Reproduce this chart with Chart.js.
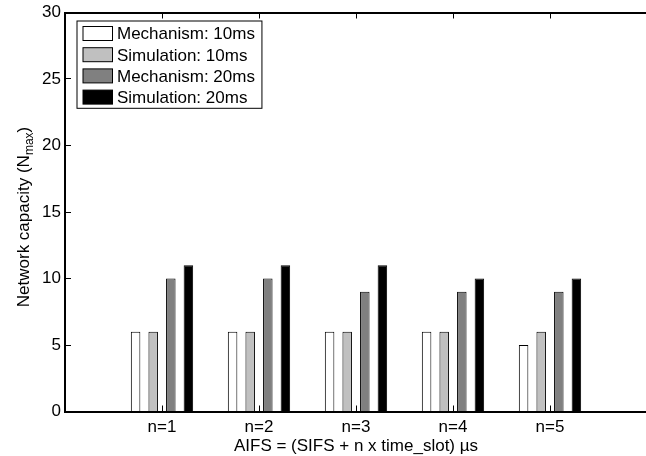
<!DOCTYPE html>
<html>
<head>
<meta charset="utf-8">
<title>Network capacity</title>
<script src="https://cdn.jsdelivr.net/npm/chart.js@4.4.1/dist/chart.umd.min.js"></script>
<style>
  html, body { margin: 0; padding: 0; background: #fff; overflow: hidden; }
  canvas { display: block; }
</style>
</head>
<body>
<canvas id="capacityChart" width="660" height="456"></canvas>
<script>
const categories = ['n=1', 'n=2', 'n=3', 'n=4', 'n=5'];
const mechanism10 = [6, 6, 6, 6, 5];
const simulation10 = [6, 6, 6, 6, 6];
const mechanism20 = [10, 10, 9, 9, 9];
const simulation20 = [11, 11, 11, 10, 10];
const yTicks = [0, 5, 10, 15, 20, 25, 30];

const FONT = "'Liberation Sans', Arial, sans-serif";

function toPoints(values) {
  return values.map((v, i) => ({ x: i + 1, y: v }));
}
const categoryTicks = (axis) => {
  axis.ticks = categories.map((c, i) => ({ value: i + 1 }));
};

// y title needs a subscript, so draw it by hand
const yTitlePlugin = {
  id: 'yTitle',
  afterDraw(chart) {
    const { ctx, chartArea } = chart;
    const main = 'Network capacity (N';
    const sub = 'max';
    const end = ')';
    ctx.save();
    ctx.fillStyle = '#000';
    ctx.textBaseline = 'alphabetic';
    ctx.font = '17px ' + FONT;
    const w1 = ctx.measureText(main).width;
    const w3 = ctx.measureText(end).width;
    ctx.font = '12px ' + FONT;
    const w2 = ctx.measureText(sub).width;
    const total = w1 + w2 + w3;
    ctx.translate(29, (chartArea.top + chartArea.bottom) / 2 + 5);
    ctx.rotate(-Math.PI / 2);
    let x = -total / 2;
    ctx.font = '17px ' + FONT;
    ctx.fillText(main, x, 0);
    x += w1;
    ctx.font = '12px ' + FONT;
    ctx.fillText(sub, x, 4);
    x += w2;
    ctx.font = '17px ' + FONT;
    ctx.fillText(end, x, 0);
    ctx.restore();
  }
};

// legend box in the top left corner of the axes
const boxLegendPlugin = {
  id: 'boxLegend',
  afterDraw(chart) {
    const { ctx, chartArea } = chart;
    const sets = chart.data.datasets;
    ctx.save();
    ctx.font = '17px ' + FONT;
    let widest = 0;
    sets.forEach(ds => { widest = Math.max(widest, ctx.measureText(ds.label).width); });
    const left = chartArea.left + 12;
    const top = chartArea.top + 8.5;
    const rowH = 21.2;
    const w = 40 + widest + 7;
    const h = rowH * sets.length + 2.5;
    ctx.fillStyle = '#fff';
    ctx.fillRect(left, top, w, h);
    ctx.strokeStyle = '#000';
    ctx.lineWidth = 1;
    ctx.strokeRect(left, top, w, h);
    sets.forEach((ds, i) => {
      const cy = top + 12.5 + i * rowH;
      ctx.fillStyle = ds.backgroundColor;
      ctx.fillRect(left + 6, cy - 7, 29.5, 14);
      ctx.strokeRect(left + 6, cy - 7, 29.5, 14);
      ctx.fillStyle = '#000';
      ctx.textBaseline = 'alphabetic';
      ctx.fillText(ds.label, left + 40, cy + 5.8);
    });
    ctx.restore();
  }
};

const barStyle = { borderColor: '#000', borderWidth: 1, borderSkipped: 'start' };

new Chart(document.getElementById('capacityChart'), {
  type: 'bar',
  data: {
    datasets: [
      { label: 'Mechanism: 10ms', data: toPoints(mechanism10), backgroundColor: '#ffffff', ...barStyle },
      { label: 'Simulation: 10ms', data: toPoints(simulation10), backgroundColor: '#c0c0c0', ...barStyle },
      { label: 'Mechanism: 20ms', data: toPoints(mechanism20), backgroundColor: '#808080', ...barStyle },
      { label: 'Simulation: 20ms', data: toPoints(simulation20), backgroundColor: '#000000', ...barStyle }
    ]
  },
  options: {
    responsive: false,
    animation: false,
    events: [],
    categoryPercentage: 0.726,
    barPercentage: 0.54,
    layout: { padding: { left: 0, top: 12.5, right: 13, bottom: 0 } },
    plugins: { legend: { display: false }, tooltip: { enabled: false } },
    scales: {
      x: {
        type: 'linear',
        position: 'bottom',
        min: 0,
        max: 6,
        offset: false,
        z: 1,
        afterBuildTicks: categoryTicks,
        afterFit: (axis) => { axis.height = 44.5; axis.paddingLeft = 0; axis.paddingRight = 0; },
        grid: { offset: false, drawOnChartArea: false, tickLength: -6, tickColor: '#000', tickWidth: 1 },
        border: { display: true, color: '#000', width: 2 },
        ticks: {
          padding: 12,
          color: '#000',
          font: { family: FONT, size: 17 },
          callback: (value) => categories[value - 1]
        },
        title: {
          display: true,
          text: 'AIFS = (SIFS + n x time_slot) \u00b5s',
          color: '#000',
          font: { family: FONT, size: 17 },
          padding: { top: 0, bottom: -1 }
        }
      },
      x2: {
        type: 'linear',
        position: 'top',
        min: 0,
        max: 6,
        offset: false,
        afterBuildTicks: categoryTicks,
        afterFit: (axis) => { axis.height = 0; axis.paddingLeft = 0; axis.paddingRight = 0; },
        grid: { offset: false, drawOnChartArea: false, tickLength: -6, tickColor: '#000', tickWidth: 1 },
        border: { display: true, color: '#000', width: 2 },
        ticks: { display: false }
      },
      y: {
        min: 0,
        max: 30,
        afterBuildTicks: (axis) => { axis.ticks = yTicks.map(v => ({ value: v })); },
        afterFit: (axis) => { axis.width = 65; axis.paddingTop = 0; axis.paddingBottom = 0; },
        grid: { drawOnChartArea: false, tickLength: -6, tickColor: '#000', tickWidth: 1 },
        border: { display: true, color: '#000', width: 2 },
        ticks: {
          padding: 10,
          color: '#000',
          font: { family: FONT, size: 17 }
        }
      }
    }
  },
  plugins: [yTitlePlugin, boxLegendPlugin]
});
</script>
</body>
</html>
